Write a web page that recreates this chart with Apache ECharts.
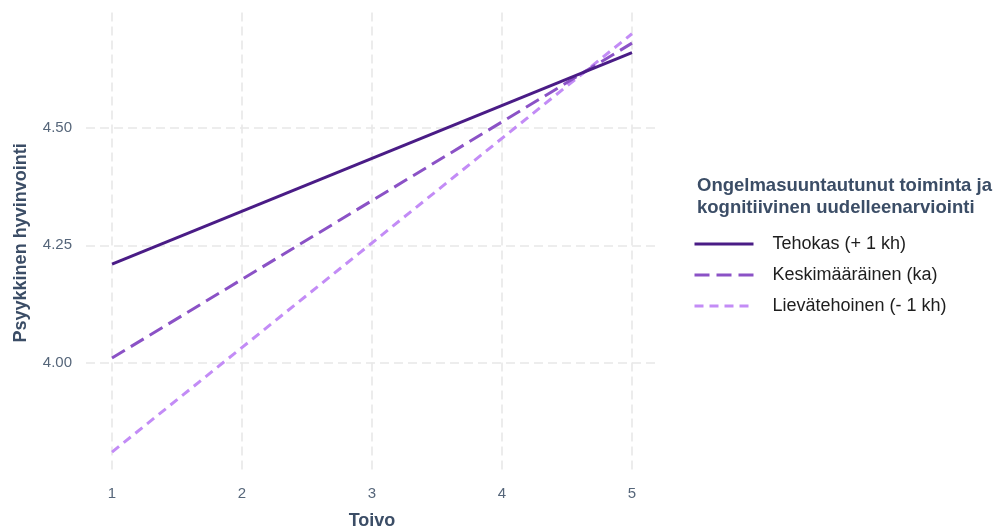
<!DOCTYPE html>
<html>
<head>
<meta charset="utf-8">
<script src="https://cdn.jsdelivr.net/npm/echarts@6/dist/echarts.min.js"></script>
<style>html,body{margin:0;padding:0;background:#fff}#c{width:1000px;height:529px}</style>
</head>
<body>
<div id="c"></div>
<script>
const xValues = [1, 5];
const xTicks = [1, 2, 3, 4, 5];
const yTicks = [4.00, 4.25, 4.50];
const seriesNames = ['Tehokas (+ 1 kh)', 'Keskimääräinen (ka)', 'Lievätehoinen (- 1 kh)'];
const tehokas = [4.21, 4.66];
const keskimaarainen = [4.01, 4.68];
const lievatehoinen = [3.81, 4.70];
const legendTitle = 'Ongelmasuuntautunut toiminta ja\nkognitiivinen uudelleenarviointi';
const xName = 'Toivo';
const yName = 'Psyykkinen hyvinvointi';

const colors = ['#4a1c86', '#8b52c6', '#c38cf6'];
const dashes = ['solid', [15, 7], [9, 6]];
const values = [tehokas, keskimaarainen, lievatehoinen];
const font = 'Liberation Sans, Arial, sans-serif';

const chart = echarts.init(document.getElementById('c'), null, {renderer: 'canvas'});
const gridLine = {show: true, lineStyle: {color: '#e8e8e8', width: 1.6, type: [9, 5]}};
chart.setOption({
  animation: false,
  backgroundColor: '#fff',
  title: {
    text: legendTitle,
    left: 692, top: 170,
    textStyle: {fontFamily: font, fontSize: 18.5, fontWeight: 'bold', color: '#3b4d66', lineHeight: 22}
  },
  legend: {
    orient: 'vertical',
    left: 688, top: 229,
    itemWidth: 59, itemHeight: 14, itemGap: 11,
    itemStyle: {color: 'rgba(0,0,0,0)', borderWidth: 0, opacity: 0},
    lineStyle: {width: 3},
    textStyle: {fontFamily: font, fontSize: 18, lineHeight: 20, color: '#1e1e1e', padding: [0, 0, 0, 14]},
    data: seriesNames
  },
  grid: {left: 86, right: 342, top: 12.6, bottom: 55.8, containLabel: false, outerBoundsMode: 'none'},
  xAxis: {
    type: 'value', min: 0.8, max: 5.2,
    name: xName, nameLocation: 'middle', nameGap: 39,
    nameTextStyle: {fontFamily: font, fontSize: 18, fontWeight: 'bold', color: '#3b4d66'},
    axisLine: {show: false},
    axisTick: {show: false, customValues: xTicks},
    axisLabel: {customValues: xTicks, margin: 13, fontFamily: font, fontSize: 15, color: '#56667a'},
    splitLine: gridLine
  },
  yAxis: {
    type: 'value', min: 3.765, max: 4.745,
    name: yName, nameLocation: 'middle', nameGap: 56,
    nameTextStyle: {fontFamily: font, fontSize: 18, fontWeight: 'bold', color: '#3b4d66'},
    axisLine: {show: false},
    axisTick: {show: false, customValues: yTicks},
    axisLabel: {customValues: yTicks, margin: 14, fontFamily: font, fontSize: 15, color: '#56667a',
      formatter: v => Number(v).toFixed(2)},
    splitLine: gridLine
  },
  series: seriesNames.map((n, i) => ({
    name: n, type: 'line',
    data: xValues.map((x, j) => [x, values[i][j]]),
    symbol: 'none',
    z: 10 - i,
    lineStyle: {color: colors[i], width: 3, type: dashes[i]},
    itemStyle: {color: colors[i]}
  }))
});
</script>
</body>
</html>
